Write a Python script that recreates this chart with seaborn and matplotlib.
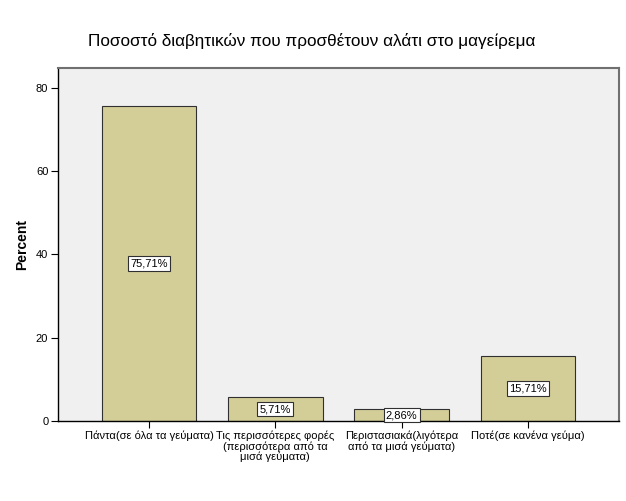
import matplotlib
matplotlib.use("Agg")
import matplotlib.pyplot as plt
import seaborn as sns
import pandas as pd

categories = [
    "Πάντα(σε όλα τα γεύματα)",
    "Τις περισσότερες φορές\n(περισσότερα από τα\nμισά γεύματα)",
    "Περιστασιακά(λιγότερα\nαπό τα μισά γεύματα)",
    "Ποτέ(σε κανένα γεύμα)",
]
percents = [75.71, 5.71, 2.86, 15.71]
value_labels = ["75,71%", "5,71%", "2,86%", "15,71%"]
title = "Ποσοστό διαβητικών που προσθέτουν αλάτι στο μαγείρεμα"
yticks = [0, 20, 40, 60, 80]

sns.set_style("white")
plt.rcParams["font.family"] = ["Liberation Sans", "DejaVu Sans"]
plt.rcParams["text.color"] = "black"
plt.rcParams["axes.labelcolor"] = "black"
plt.rcParams["xtick.color"] = "black"
plt.rcParams["ytick.color"] = "black"

df = pd.DataFrame({"cat": categories, "pct": percents})

fig = plt.figure(figsize=(6.26, 5.01), dpi=100)
ax = fig.add_axes([58 / 626, 80 / 501, 561 / 626, 353 / 501])
ax.set_facecolor("#F0F0F0")

sns.barplot(data=df, x="cat", y="pct", color="#D3CE98", width=0.75,
            edgecolor="#303030", linewidth=0.8, saturation=1, ax=ax)

for i, (v, lab) in enumerate(zip(percents, value_labels)):
    ax.text(i, v / 2, lab, ha="center", va="center", fontsize=8, color="black",
            bbox=dict(boxstyle="square,pad=0.2", fc="white", ec="#303030", lw=0.8))

ax.set_xlim(-0.72, 3.72)
ax.set_ylim(0, 84.8)
ax.set_yticks(yticks)
ax.set_yticklabels([str(t) for t in yticks], fontsize=8)
ax.set_xticks(range(len(categories)))
ax.set_xticklabels(categories, fontsize=8, linespacing=1.0)
ax.tick_params(axis="both", which="both", direction="out", length=5, width=0.8,
               color="black", left=True, bottom=True, pad=2)
ax.set_xlabel("")
ax.set_ylabel("Percent", fontsize=10, fontweight="bold", labelpad=5)

for side in ["left", "bottom"]:
    ax.spines[side].set_color("black")
    ax.spines[side].set_linewidth(1)
for side in ["top", "right"]:
    ax.spines[side].set_color("#707070")
    ax.spines[side].set_linewidth(1.5)
    ax.spines[side].set_visible(True)

fig.text(312 / 626, 1 - 41 / 501, title, ha="center", va="center",
         fontsize=12.3, color="black")

fig.savefig("out.png", dpi=100, facecolor="white")
